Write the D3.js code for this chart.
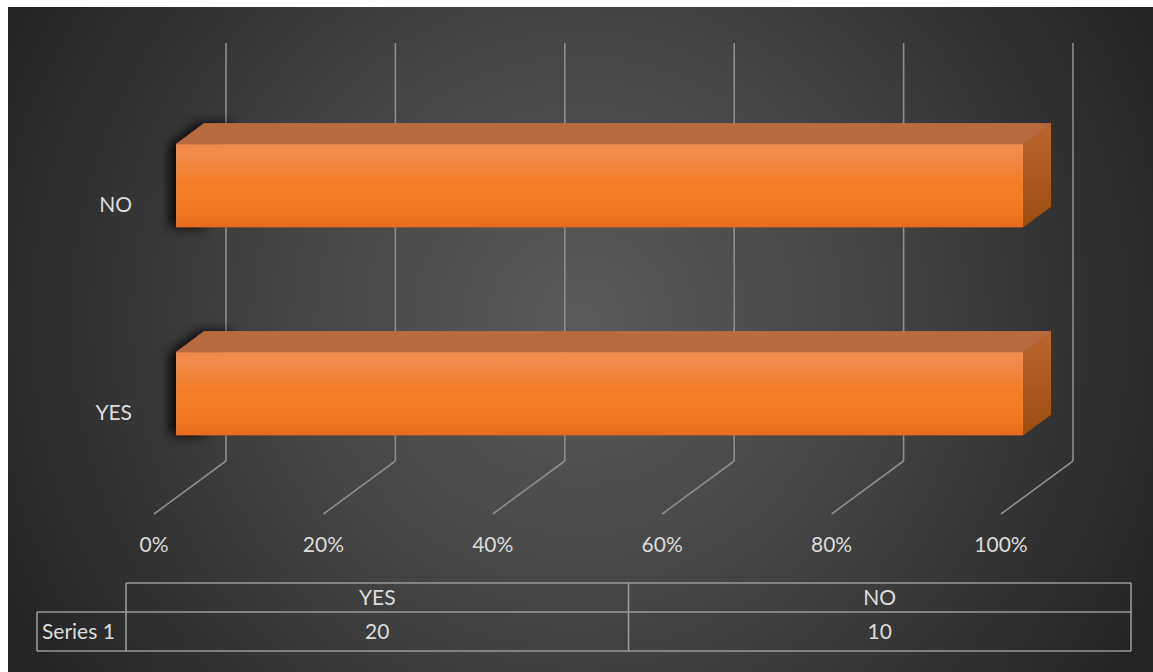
<!DOCTYPE html>
<html>
<head>
<meta charset="utf-8">
<script src="https://cdn.jsdelivr.net/npm/d3@7"></script>
<style>
  html, body { margin: 0; padding: 0; background: #ffffff; }
  svg { display: block; }
  text { font-family: Lato, "Open Sans", sans-serif; fill: #dcdcdc; }
</style>
</head>
<body>
<svg id="chart" width="1153" height="672"></svg>
<script>
// ---- data ----
const categories = ["YES", "NO"];
const seriesName = "Series 1";
const seriesValues = [20, 10];
const tickValues = [0, 0.2, 0.4, 0.6, 0.8, 1.0];
const tickLabels = ["0%", "20%", "40%", "60%", "80%", "100%"];

// 100% stacked: each category's share of its own total (single series)
const shares = seriesValues.map(v => v / v);

const svg = d3.select("#chart");
const W = 1153, H = 672;

// ---- background ----
const defs = svg.append("defs");
const rg = defs.append("radialGradient").attr("id", "bg")
  .attr("gradientUnits", "userSpaceOnUse")
  .attr("cx", 580).attr("cy", 320).attr("r", 640);
rg.append("stop").attr("offset", "0%").attr("stop-color", "#5b5b5b");
rg.append("stop").attr("offset", "45%").attr("stop-color", "#454545");
rg.append("stop").attr("offset", "100%").attr("stop-color", "#242424");
svg.append("rect").attr("x", 8).attr("y", 7).attr("width", W - 8).attr("height", H - 7)
  .attr("fill", "url(#bg)");

const fg = defs.append("linearGradient").attr("id", "front").attr("x1", 0).attr("y1", 0).attr("x2", 0).attr("y2", 1);
[["0%", "#f08c50"], ["12%", "#f28a4a"], ["45%", "#f47e28"], ["85%", "#f07520"], ["100%", "#e66a1a"]]
  .forEach(([o, c]) => fg.append("stop").attr("offset", o).attr("stop-color", c));
const sg = defs.append("linearGradient").attr("id", "side").attr("x1", 0).attr("y1", 0).attr("x2", 0).attr("y2", 1);
[["0%", "#b9672f"], ["100%", "#9c4d12"]]
  .forEach(([o, c]) => sg.append("stop").attr("offset", o).attr("stop-color", c));
const blur = defs.append("filter").attr("id", "shadow").attr("x", "-50%").attr("y", "-50%").attr("width", "200%").attr("height", "200%");
blur.append("feGaussianBlur").attr("stdDeviation", 6);

// ---- scales & projection ----
const x = d3.scaleLinear().domain([0, 1]).range([154, 1001]);          // front floor edge
const y = d3.scaleBand().domain(categories.slice().reverse()).range([98, 514])
  .paddingInner(0.6).paddingOuter(0.3);
const DX = 72, DY = -53;              // full depth offset (front -> back wall)
const Z0 = 22 / 72, Z1 = 50 / 72;     // bar depth extent
const P = (v, yy, z) => [x(v) + DX * z, yy + DY * z];
const floorY = 514, wallTop = 43;

// ---- gridlines (back wall + floor) ----
const grid = svg.append("g").attr("stroke", "#8c8c8c").attr("stroke-width", 1.6).attr("fill", "none");
tickValues.forEach(t => {
  const [bx, by] = P(t, floorY, 1);
  grid.append("line").attr("x1", bx).attr("y1", wallTop).attr("x2", bx).attr("y2", by);
  const [fx, fy] = P(t, floorY, 0);
  grid.append("line").attr("x1", fx).attr("y1", fy).attr("x2", bx).attr("y2", by);
});

// ---- bars ----
const bars = svg.append("g");
categories.forEach((c, i) => {
  const top = y(c), bot = y(c) + y.bandwidth();
  const v1 = shares[i];
  const pt = (v, yy, z) => P(v, yy, z).join(",");
  // shadow
  bars.append("polygon")
    .attr("points", [pt(0, top, Z1), pt(0.04, top, Z1), pt(0.04, bot, Z0), pt(0, bot, Z0), pt(0, top, Z0)].join(" "))
    .attr("transform", "translate(-6,0)")
    .attr("fill", "#000").attr("opacity", 0.9).attr("filter", "url(#shadow)");
  // top face
  bars.append("polygon")
    .attr("points", [pt(0, top, Z0), pt(v1, top, Z0), pt(v1, top, Z1), pt(0, top, Z1)].join(" "))
    .attr("fill", "#b86b40").attr("stroke", "#c0703f").attr("stroke-width", 0.8);
  // side face
  bars.append("polygon")
    .attr("points", [pt(v1, top, Z0), pt(v1, top, Z1), pt(v1, bot, Z1), pt(v1, bot, Z0)].join(" "))
    .attr("fill", "url(#side)");
  // front face
  const [fx0, fy0] = P(0, top, Z0), [fx1, fy1] = P(v1, bot, Z0);
  bars.append("rect").attr("x", fx0).attr("y", fy0).attr("width", fx1 - fx0).attr("height", fy1 - fy0)
    .attr("fill", "url(#front)");
});

// ---- category labels ----
svg.append("g").selectAll("text").data(categories).join("text")
  .attr("x", 132).attr("y", d => y(d) + y.bandwidth() / 2 + 10)
  .attr("text-anchor", "end").attr("font-size", 21)
  .text(d => d);

// ---- value axis labels ----
svg.append("g").selectAll("text").data(tickValues).join("text")
  .attr("x", d => x(d)).attr("y", 552)
  .attr("text-anchor", "middle").attr("font-size", 21)
  .text((d, i) => tickLabels[i]);

// ---- data table ----
const tx = d3.scaleBand().domain(categories).range([126, 1131]);
const rowTop = 583, rowMid = 612, rowBot = 651, labelLeft = 37;
const tbl = svg.append("g").attr("stroke", "#9a9a9a").attr("stroke-width", 1.6).attr("fill", "none");
tbl.append("line").attr("x1", 126).attr("y1", rowTop).attr("x2", 1131).attr("y2", rowTop);
tbl.append("line").attr("x1", labelLeft).attr("y1", rowMid).attr("x2", 1131).attr("y2", rowMid);
tbl.append("line").attr("x1", labelLeft).attr("y1", rowBot).attr("x2", 1131).attr("y2", rowBot);
tbl.append("line").attr("x1", labelLeft).attr("y1", rowMid).attr("x2", labelLeft).attr("y2", rowBot);
tbl.append("line").attr("x1", 126).attr("y1", rowTop).attr("x2", 126).attr("y2", rowBot);
categories.forEach(c => {
  const xe = tx(c) + tx.bandwidth();
  tbl.append("line").attr("x1", xe).attr("y1", rowTop).attr("x2", xe).attr("y2", rowBot);
});
const tt = svg.append("g").attr("font-size", 21).attr("text-anchor", "middle");
categories.forEach((c, i) => {
  const cx = tx(c) + tx.bandwidth() / 2;
  tt.append("text").attr("x", cx).attr("y", 605).text(c);
  tt.append("text").attr("x", cx).attr("y", 639).text(seriesValues[i]);
});
tt.append("text").attr("x", 42).attr("y", 639).attr("text-anchor", "start").text(seriesName);
</script>
</body>
</html>
